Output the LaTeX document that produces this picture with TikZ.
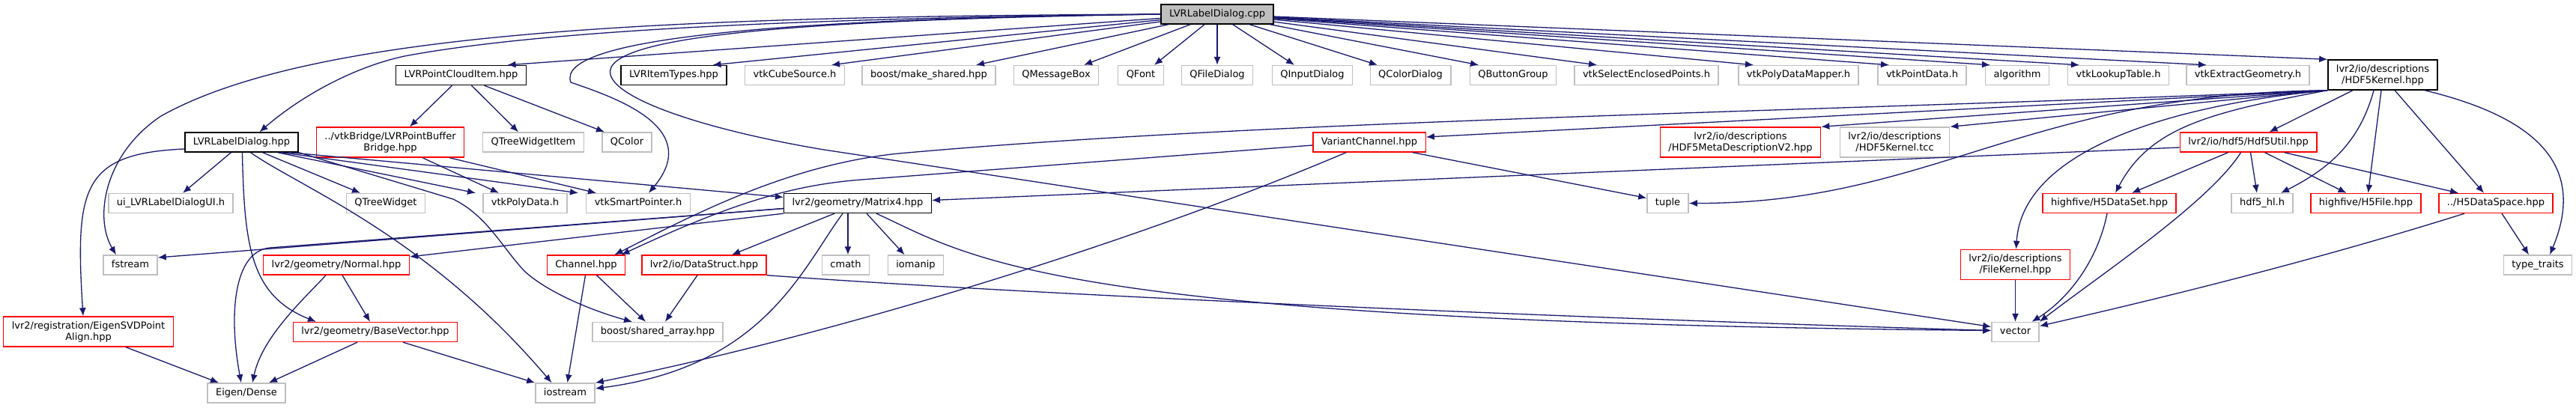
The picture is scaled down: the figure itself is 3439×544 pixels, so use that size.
\documentclass[tikz,border=0pt]{standalone}
\usepackage{fontspec}
\setmainfont{DejaVu Sans}
\usetikzlibrary{arrows.meta}
\definecolor{edgeblue}{HTML}{191970}
\definecolor{extgray}{HTML}{BFBFBF}
\definecolor{truncred}{HTML}{FF0000}

\begin{document}
\begin{tikzpicture}[x=1pt, y=-1pt,
  filebox/.style={rectangle, draw, fill=white, line width=1.4pt, inner xsep=11pt, inner ysep=0pt, minimum height=26pt, text height=9.6pt, text depth=3pt, font=\fontsize{13}{15}\selectfont},
  root/.style={filebox, fill=extgray, draw=black},
  doc/.style={filebox, draw=black},
  trunc/.style={filebox, draw=truncred},
  ext/.style={filebox, draw=extgray},
  two/.style={align=center, text height=, text depth=, minimum height=40pt},
  inc/.style={-{Latex[length=11pt,width=9pt]}, draw=edgeblue, line width=1.3pt}
]
  \fill[white] (0,0) rectangle (3439,544);
  \useasboundingbox (0,0) rectangle (3439,544);

  \node[root] (cpp) at (1625,19) {LVRLabelDialog.cpp};

  \node[doc] (pci)        at (615.5,100.5) {LVRPointCloudItem.hpp};
  \node[doc] (itemtypes)  at (899.5,100.5) {LVRItemTypes.hpp};
  \node[ext] (cube)       at (1061,100.5)  {vtkCubeSource.h};
  \node[ext] (makeshared) at (1240,100.5)  {boost/make\_shared.hpp};
  \node[ext] (msgbox)     at (1410,100.5)  {QMessageBox};
  \node[ext] (qfont)      at (1523,100.5)  {QFont};
  \node[ext] (qfiledlg)   at (1625,100.5)  {QFileDialog};
  \node[ext] (qinput)     at (1752,100.5)  {QInputDialog};
  \node[ext] (qcolordlg)  at (1883,100.5)  {QColorDialog};
  \node[ext] (qbtngrp)    at (2020,100.5)  {QButtonGroup};
  \node[ext] (selenc)     at (2198,100.5)  {vtkSelectEnclosedPoints.h};
  \node[ext] (pdmapper)   at (2401,100.5)  {vtkPolyDataMapper.h};
  \node[ext] (pointdata)  at (2566,100.5)  {vtkPointData.h};
  \node[ext] (algorithm)  at (2693,100.5)  {algorithm};
  \node[ext] (lookup)     at (2828,100.5)  {vtkLookupTable.h};
  \node[ext] (extract)    at (3001,100.5)  {vtkExtractGeometry.h};
  \node[doc, two] (hkernel) at (3181,100) {lvr2/io/descriptions\\/HDF5Kernel.hpp};

  \node[doc] (labelhpp)   at (322.5,190) {LVRLabelDialog.hpp};
  \node[trunc, two] (bridge) at (521,190) {../vtkBridge/LVRPointBuffer\\Bridge.hpp};
  \node[ext] (qtwitem)    at (712,190)  {QTreeWidgetItem};
  \node[ext] (qcolor)     at (837,190)  {QColor};
  \node[trunc] (varchan)  at (1828,190) {VariantChannel.hpp};
  \node[trunc, two] (metadesc) at (2323.5,190) {lvr2/io/descriptions\\/HDF5MetaDescriptionV2.hpp};
  \node[ext, two] (ktcc)  at (2529.5,190) {lvr2/io/descriptions\\/HDF5Kernel.tcc};
  \node[trunc] (h5util)   at (3001.5,190) {lvr2/io/hdf5/Hdf5Util.hpp};

  \node[ext] (ui)         at (228,271.5)  {ui\_LVRLabelDialogUI.h};
  \node[ext] (qtree)      at (515,271.5)  {QTreeWidget};
  \node[ext] (polydata)   at (701,271.5)  {vtkPolyData.h};
  \node[ext] (smartptr)   at (852,271.5)  {vtkSmartPointer.h};
  \node[doc] (matrix)     at (1145,271.5) {lvr2/geometry/Matrix4.hpp};
  \node[ext] (tuple)      at (2226.5,271.5) {tuple};
  \node[trunc] (dataset)  at (2816,271.5) {highfive/H5DataSet.hpp};
  \node[ext] (hdfhl)      at (3020,271.5) {hdf5\_hl.h};
  \node[trunc] (h5file)   at (3158.5,271.5) {highfive/H5File.hpp};
  \node[trunc] (dataspace) at (3332,271.5) {../H5DataSpace.hpp};

  \node[ext] (fstream)    at (174,354)   {fstream};
  \node[trunc] (normal)   at (449,354)   {lvr2/geometry/Normal.hpp};
  \node[trunc] (channel)  at (782.5,354) {Channel.hpp};
  \node[trunc] (datastruct) at (940,354) {lvr2/io/DataStruct.hpp};
  \node[ext] (cmath)      at (1129,354)  {cmath};
  \node[ext] (iomanip)    at (1222.5,354) {iomanip};
  \node[trunc, two] (filekernel) at (2690.5,353.5) {lvr2/io/descriptions\\/FileKernel.hpp};
  \node[ext] (typetraits) at (3388,354)  {type\_traits};

  \node[trunc, two] (eigensvd) at (118,443) {lvr2/registration/EigenSVDPoint\\Align.hpp};
  \node[trunc] (basevec)  at (501,443.5)  {lvr2/geometry/BaseVector.hpp};
  \node[ext] (sharedarr)  at (878,443.5)  {boost/shared\_array.hpp};
  \node[ext] (vector)     at (2690.5,443.5) {vector};

  \node[ext] (eigen)      at (329,525)   {Eigen/Dense};
  \node[ext] (iostream)   at (754.5,525) {iostream};

  % LVRLabelDialog.cpp
  \draw[inc] (cpp.west) .. controls (1000,25) and (700,45) .. (540,75) .. controls (470,90) and (400,130) .. ([xshift=24pt]labelhpp.north);
  \draw[inc] (cpp.west) .. controls (900,22) and (420,40) .. (215,155) .. controls (140,205) and (125,290) .. ([xshift=-19pt]fstream.north);
  \draw[inc] (cpp) -- ([xshift=62pt]pci.north);
  \draw[inc] (cpp) -- ([xshift=52pt]itemtypes.north);
  \draw[inc] (cpp) -- ([xshift=49pt]cube.north);
  \draw[inc] (cpp) -- ([xshift=63pt]makeshared.north);
  \draw[inc] (cpp) -- ([xshift=37pt]msgbox.north);
  \draw[inc] (cpp) -- ([xshift=18pt]qfont.north);
  \draw[inc] (cpp) -- (qfiledlg);
  \draw[inc] (cpp) -- ([xshift=-24pt]qinput.north);
  \draw[inc] (cpp) -- ([xshift=-44pt]qcolordlg.north);
  \draw[inc] (cpp) -- ([xshift=-46pt]qbtngrp.north);
  \draw[inc] (cpp) -- ([xshift=-66pt]selenc.north);
  \draw[inc] (cpp) -- ([xshift=-60pt]pdmapper.north);
  \draw[inc] (cpp) -- ([xshift=-44pt]pointdata.north);
  \draw[inc] (cpp) -- ([xshift=-36pt]algorithm.north);
  \draw[inc] (cpp) -- ([xshift=-52pt]lookup.north);
  \draw[inc] (cpp) -- ([xshift=-55pt]extract.north);
  \draw[inc] (cpp) -- (hkernel.north west);
  \draw[inc] (cpp.west) .. controls (1050,25) and (740,50) .. (762,110) .. controls (820,130) and (940,170) .. ([xshift=14pt]smartptr.north);
  \draw[inc] (cpp.west) .. controls (1100,26) and (800,45) .. (815,100) .. controls (825,135) and (950,175) .. (1100,200) -- ([yshift=7pt]vector.west);

  % LVRPointCloudItem.hpp and the bridge
  \draw[inc] ([xshift=-12pt]pci.south) -- ([xshift=26pt]bridge.north);
  \draw[inc] ([xshift=14pt]pci.south) -- ([xshift=-20pt]qtwitem.north);
  \draw[inc] ([xshift=31pt]pci.south) -- ([xshift=-30pt]qcolor.north);
  \draw[inc] ([xshift=43pt]bridge.south) -- ([xshift=-35pt]polydata.north);
  \draw[inc] ([xshift=79pt]bridge.south) -- ([xshift=-56pt]smartptr.north);

  % LVRLabelDialog.hpp
  \draw[inc] ([xshift=-14pt]labelhpp.south) -- ([xshift=16pt]ui.north);
  \draw[inc] ([yshift=-9pt]labelhpp.west) .. controls (110,205) and (100,250) .. ([xshift=-7pt]eigensvd.north);
  \draw[inc] ([xshift=1pt]labelhpp.south) .. controls (326,330) and (335,395) .. ([xshift=-79pt]basevec.north);
  \draw[inc] ([xshift=12pt]labelhpp.south) .. controls (400,250) and (570,315) .. ([xshift=-18pt]iostream.north);
  \draw[inc] ([xshift=28pt]labelhpp.south) -- ([xshift=-34pt]qtree.north);
  \draw[inc] ([xshift=48pt]labelhpp.south) -- ([xshift=-66pt]polydata.north);
  \draw[inc] ([xshift=53pt]labelhpp.south) -- ([xshift=-80pt]smartptr.north);
  \draw[inc] ([xshift=63pt]labelhpp.south) -- ([yshift=8pt]matrix.west);
  \draw[inc] (labelhpp.south east) -- (605,266) .. controls (650,288) and (670,330) .. (700,362) .. controls (730,390) and (790,415) .. ([xshift=-34pt]sharedarr.north);

  % Matrix4.hpp
  \draw[inc] ([yshift=-7pt]matrix.west) -- ([yshift=10pt]fstream.east);
  \draw[inc] ([yshift=-7pt]matrix.west) -- (360,331) .. controls (312,336) and (305,420) .. ([xshift=-7pt]eigen.north);
  \draw[inc] (matrix.south west) -- ([yshift=11pt]normal.east);
  \draw[inc] ([xshift=-31pt]matrix.south) -- ([xshift=37pt]datastruct.north);
  \draw[inc] ([xshift=-13pt]matrix.south) -- ([xshift=3pt]cmath.north);
  \draw[inc] ([xshift=12pt]matrix.south) -- ([xshift=-15pt]iomanip.north);
  \draw[inc] ([xshift=-20pt]matrix.south) .. controls (1070,360) and (1020,490) .. ([yshift=6pt]iostream.east);
  \draw[inc] ([xshift=25pt]matrix.south) .. controls (1300,345) and (1400,430) .. ([yshift=2pt]vector.west);

  % lower geometry and io headers
  \draw[inc] (datastruct.south east) .. controls (1400,395) and (2100,425) .. ([yshift=2pt]vector.west);
  \draw[inc] ([xshift=-9pt]datastruct.south) -- ([xshift=10pt]sharedarr.north);
  \draw[inc] ([xshift=14pt]channel.south) -- ([xshift=-16pt]sharedarr.north);
  \draw[inc] ([xshift=-1pt]channel.south) -- ([xshift=3pt]iostream.north);
  \draw[inc] ([xshift=8pt]normal.south) -- ([xshift=-7pt]basevec.north);
  \draw[inc] ([xshift=-14pt]normal.south) .. controls (405,400) and (350,450) .. ([xshift=8pt]eigen.north);
  \draw[inc] ([xshift=-24pt]basevec.south) -- ([xshift=30pt]eigen.north);
  \draw[inc] ([xshift=37pt]basevec.south) -- (iostream.north west);
  \draw[inc] ([xshift=50pt]eigensvd.south) -- ([xshift=-37pt]eigen.north);

  % VariantChannel.hpp
  \draw[inc] ([yshift=-4pt]varchan.west) -- (1150,240) .. controls (1060,247) and (980,270) .. ([xshift=47pt]channel.north);
  \draw[inc] ([xshift=-31pt]varchan.south) .. controls (1500,330) and (1100,450) .. (iostream.north east);
  \draw[inc] ([xshift=58pt]varchan.south) -- ([yshift=7pt]tuple.west);

  % HDF5Kernel.hpp
  \draw[inc] (hkernel.south west) -- (metadesc.north east);
  \draw[inc] (hkernel.south west) -- (ktcc.north east);
  \draw[inc] (hkernel.south west) -- ([yshift=7pt]varchan.east);
  \draw[inc] (hkernel.south west) .. controls (2400,150) and (1700,160) .. (1200,205) .. controls (1050,220) and (920,290) .. ([xshift=38pt]channel.north);
  \draw[inc] (hkernel.south west) .. controls (2700,125) and (2580,272) .. (tuple.east);
  \draw[inc] (hkernel.south west) .. controls (2900,140) and (2700,200) .. ([xshift=1pt]filekernel.north);
  \draw[inc] (hkernel.south west) .. controls (2950,150) and (2870,170) .. ([xshift=8pt]dataset.north);
  \draw[inc] ([xshift=-40pt]hkernel.south) -- ([xshift=28pt]h5util.north);
  \draw[inc] ([xshift=-12pt]hkernel.south) .. controls (3150,190) and (3110,225) .. ([xshift=25pt]hdfhl.north);
  \draw[inc] ([xshift=-2pt]hkernel.south) -- ([xshift=3pt]h5file.north);
  \draw[inc] ([xshift=16pt]hkernel.south) -- ([xshift=-16pt]dataspace.north);
  \draw[inc] ([xshift=56pt]hkernel.south) .. controls (3400,160) and (3450,230) .. ([xshift=16pt]typetraits.north);

  % Hdf5Util.hpp and highfive
  \draw[inc] ([yshift=-7pt]h5util.west) -- ([yshift=4pt]matrix.east);
  \draw[inc] ([xshift=-27pt]h5util.south) -- ([xshift=30pt]dataset.north);
  \draw[inc] ([xshift=-10pt]h5util.south) .. controls (2950,270) and (2800,370) .. (vector.north east);
  \draw[inc] ([xshift=3pt]h5util.south) -- ([xshift=-7pt]hdfhl.north);
  \draw[inc] ([xshift=22pt]h5util.south) -- ([xshift=-26pt]h5file.north);
  \draw[inc] ([xshift=48pt]h5util.south) -- ([xshift=-50pt]dataspace.north);
  \draw[inc] ([xshift=-3pt]dataset.south) .. controls (2800,350) and (2760,400) .. ([xshift=22pt]vector.north);
  \draw[inc] ([xshift=8pt]dataspace.south) -- ([xshift=-12pt]typetraits.north);
  \draw[inc] ([xshift=-42pt]dataspace.south) .. controls (3100,345) and (2900,395) .. ([yshift=8pt]vector.east);
  \draw[inc] (filekernel) -- (vector);
\end{tikzpicture}
\end{document}
